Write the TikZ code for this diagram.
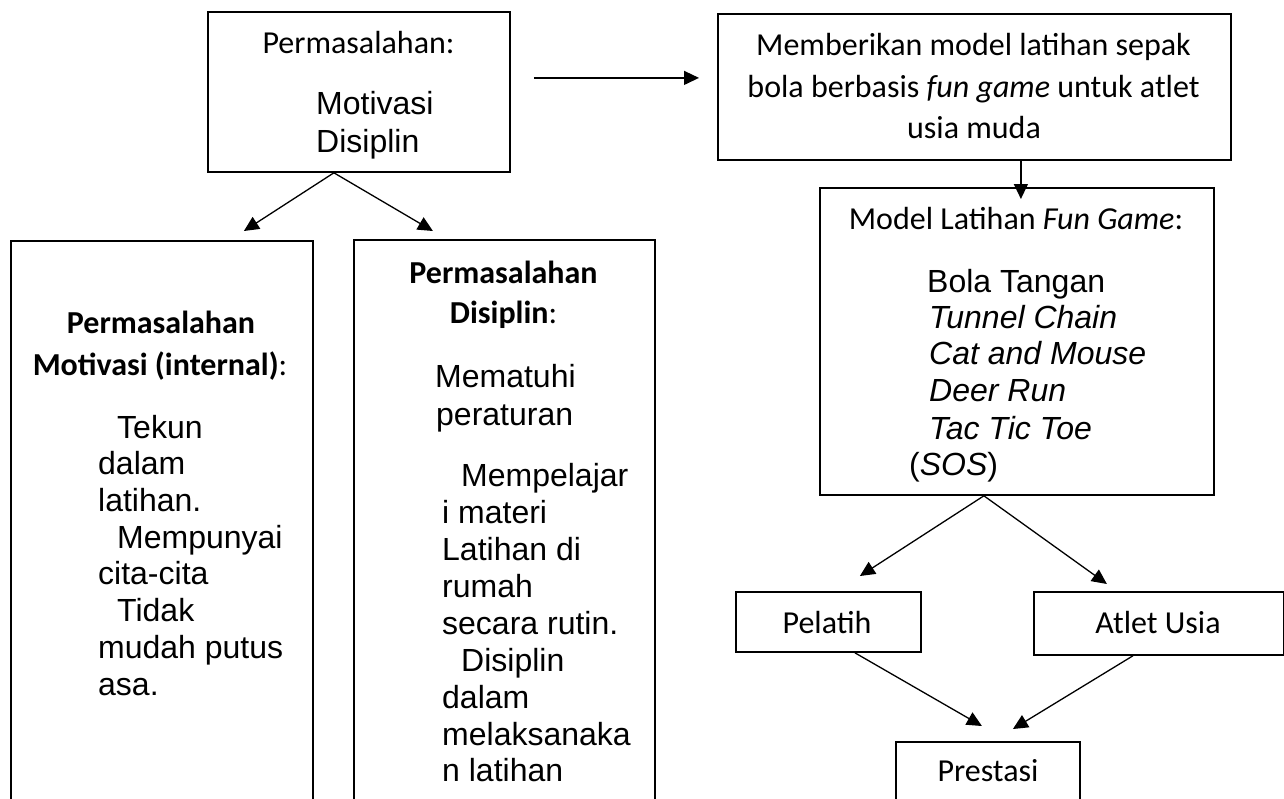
\documentclass[tikz,border=0pt]{standalone}
\usepackage{fontspec}
\newfontfamily\calfont{Carlito}
\newfontfamily\arifont{Liberation Sans}
\usetikzlibrary{arrows.meta,calc}
\begin{document}
\begin{tikzpicture}[x=1pt,y=-1pt,
  box/.style={draw, line width=1.8pt, inner sep=0pt, anchor=north west},
  arr/.style={-{Triangle[length=15pt,width=14pt]}, line width=1.3pt},
  cl/.style={inner sep=0pt, anchor=base, font=\calfont\fontsize{32}{38}\selectfont},
  ar/.style={inner sep=0pt, anchor=base west, font=\arifont\fontsize{32}{38}\selectfont}]
\clip (0,0) rectangle (1284,798);
\fill[white] (0,0) rectangle (1284,798);
% boxes
\node[box, minimum width=302pt, minimum height=160pt] (top) at (207,11) {};
\node[box, minimum width=513pt, minimum height=146pt] (rtop) at (717,13) {};
\node[box, minimum width=394pt, minimum height=307pt] (model) at (819,187) {};
\node[box, minimum width=302pt, minimum height=600pt] (lbox) at (10,240) {};
\node[box, minimum width=301pt, minimum height=600pt] (mbox) at (353,239) {};
\node[box, minimum width=185pt, minimum height=60pt] (pel) at (735,591) {};
\node[box, minimum width=250pt, minimum height=63pt] (atl) at (1033,591) {};
\node[box, minimum width=184pt, minimum height=120pt] (pres) at (895,741) {};
% arrows
\draw[arr] ($(top.east)+(23,-14)$) -- ($(rtop.west)+(-18,-9)$);
\draw[arr] ($(rtop.south)+(46.5,0)$) -- ($(model.north)+(4,12)$);
\draw[arr] ($(top.south)+(-25,0)$) -- ($(lbox.north)+(82,-9)$);
\draw[arr] ($(top.south)+(-25,0)$) -- ($(mbox.north)+(-71.5,-8)$);
\draw[arr] ($(model.south)+(-33,0)$) -- ($(pel.north)+(31.5,-15)$);
\draw[arr] ($(model.south)+(-33,0)$) -- ($(atl.north)+(-52,-7)$);
\draw[arr] ($(pel.south)+(26.5,0)$) -- ($(pres.north)+(-6,-15)$);
\draw[arr] ($(atl.south)+(-26,0)$) -- ($(pres.north)+(25,-12)$);
% top box text
\node[cl] (t1) at (358.5,53) {Permasalahan:};
\node[ar] (t2) at (316,114) {Motivasi};
\node[ar] (t3) at (316,152) {Disiplin};
% right top box text
\node[cl] (r1) at (973.5,55) {Memberikan model latihan sepak};
\node[cl] (r2) at (973.5,97) {bola berbasis \textit{fun game} untuk atlet};
\node[cl] (r3) at (974,138) {usia muda};
% model box text
\node[cl] (m0) at (1016,229) {Model Latihan \textit{Fun Game}:};
\node[ar] (m1) at (927,292) {Bola Tangan};
\node[ar] (m2) at (929,328) {\textit{Tunnel Chain}};
\node[ar] (m3) at (929,364) {\textit{Cat and Mouse}};
\node[ar] (m4) at (929,401) {\textit{Deer Run}};
\node[ar] (m5) at (929,439) {\textit{Tac Tic Toe}};
\node[ar] (m6) at (909,475) {(\textit{SOS})};
% left box text
\node[cl] (a0) at (161,333) {\textbf{Permasalahan}};
\node[cl] (a1) at (160,375) {\textbf{Motivasi (internal)}:};
\node[ar] (a2) at (117,438) {Tekun};
\node[ar] (a3) at (98,474.7) {dalam};
\node[ar] (a4) at (98,511.4) {latihan.};
\node[ar] (a5) at (117,548) {Mempunyai};
\node[ar] (a6) at (98,584.8) {cita-cita};
\node[ar] (a7) at (117,621.5) {Tidak};
\node[ar] (a8) at (98,658) {mudah putus};
\node[ar] (a9) at (98,695) {asa.};
% middle box text
\node[cl] (b0) at (503.5,283) {\textbf{Permasalahan}};
\node[cl] (b1) at (503.5,323) {\textbf{Disiplin}:};
\node[ar] (b2) at (435,387) {Mematuhi};
\node[ar] (b3) at (436,425) {peraturan};
\node[ar] (b4) at (461,486) {Mempelajar};
\node[ar] (b5) at (442,523) {i materi};
\node[ar] (b6) at (442,560) {Latihan di};
\node[ar] (b7) at (442,597) {rumah};
\node[ar] (b8) at (442,634) {secara rutin.};
\node[ar] (b9) at (461,671) {Disiplin};
\node[ar] (b10) at (442,708) {dalam};
\node[ar] (b11) at (442,745) {melaksanaka};
\node[ar] (b12) at (442,781) {n latihan};
% bottom boxes text
\node[cl] (p1) at (827,633) {Pelatih};
\node[cl] (p2) at (1158,633) {Atlet Usia};
\node[cl] (p3) at (988,781) {Prestasi};
\end{tikzpicture}
\end{document}
